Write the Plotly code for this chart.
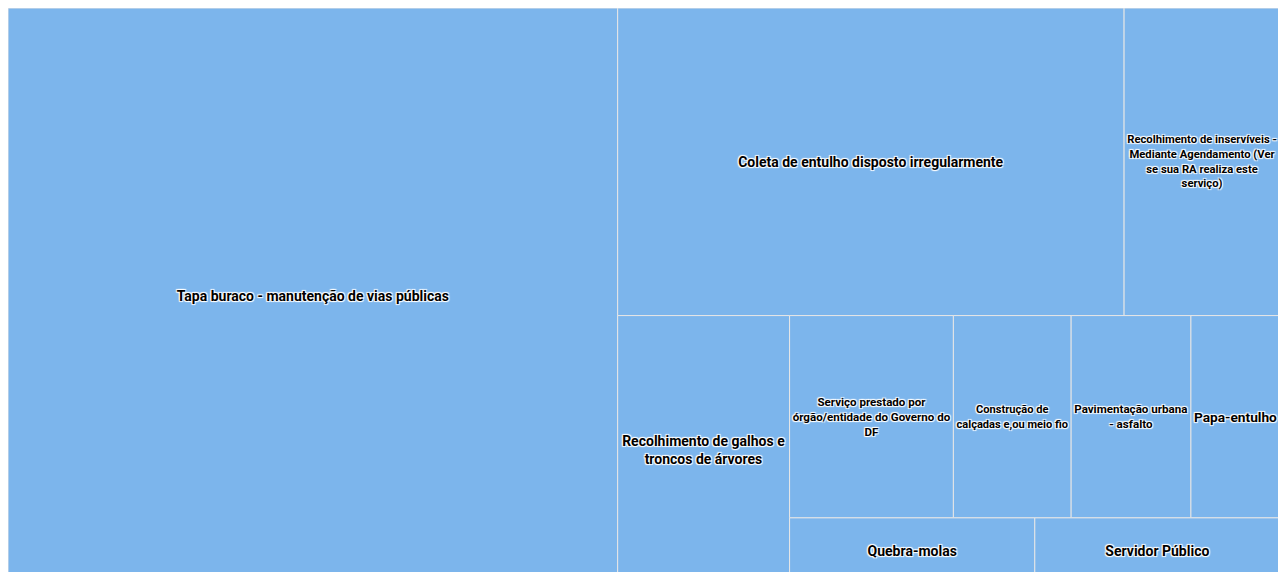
import plotly.graph_objects as go

# Leaf categories and their values
labels = [
    "Tapa buraco - manutenção de vias públicas",
    "Coleta de entulho disposto irregularmente",
    "Recolhimento de inservíveis - Mediante Agendamento (Ver se sua RA realiza este serviço)",
    "Recolhimento de galhos e troncos de árvores",
    "Serviço prestado por órgão/entidade do Governo do DF",
    "Construção de calçadas e,ou meio fio",
    "Pavimentação urbana - asfalto",
    "Papa-entulho",
    "Quebra-molas",
    "Servidor Público",
]
display = [
    "Tapa buraco - manutenção de vias públicas",
    "Coleta de entulho disposto irregularmente",
    "Recolhimento de inservíveis -<br>Mediante Agendamento (Ver<br>se sua RA realiza este<br>serviço)",
    "Recolhimento de galhos e<br>troncos de árvores",
    "Serviço prestado por<br>órgão/entidade do Governo do<br>DF",
    "Construção de<br>calçadas e,ou meio fio",
    "Pavimentação urbana<br>- asfalto",
    "Papa-entulho",
    "Quebra-molas",
    "Servidor Público",
]
values = [3508, 1556, 479, 461, 331, 238, 242, 180, 162, 162]

# Layout groups (invisible) reproducing the alternating squarified arrangement
group_ids = ["g1", "g2", "g3", "g4", "g5", "g6"]
group_parents = ["", "g1", "g1", "g3", "g4", "g4"]
leaf_parents = ["", "g2", "g2", "g3", "g5", "g5", "g5", "g5", "g6", "g6"]

ids = [f"n{i}" for i in range(len(labels))] + group_ids
all_labels = labels + [""] * len(group_ids)
all_text = display + [""] * len(group_ids)
all_parents = leaf_parents + group_parents
all_values = values + [0] * len(group_ids)

fig = go.Figure(go.Treemap(
    ids=ids,
    labels=all_labels,
    parents=all_parents,
    values=all_values,
    text=all_text,
    textinfo="text",
    textposition="middle center",
    sort=False,
    marker=dict(
        colors=["#7cb5ec"] * len(ids),
        line=dict(color="#e6e6e6", width=1),
        pad=dict(t=0, l=0, r=0, b=0),
    ),
    textfont=dict(
        family="Roboto, 'Liberation Sans', sans-serif",
        size=14, color="#000000", weight="bold",
        shadow="1px 1px 1px #fff, -1px -1px 1px #fff, 1px -1px 1px #fff, -1px 1px 1px #fff",
    ),
    pathbar=dict(visible=False),
    tiling=dict(packing="slice-dice", pad=0),
    hoverinfo="label+value",
))
fig.update_layout(
    width=1272,
    height=576,
    autosize=False,
    margin=dict(l=0, r=0, t=0, b=0),
    paper_bgcolor="#ffffff",
)
fig.write_html("out.html")
